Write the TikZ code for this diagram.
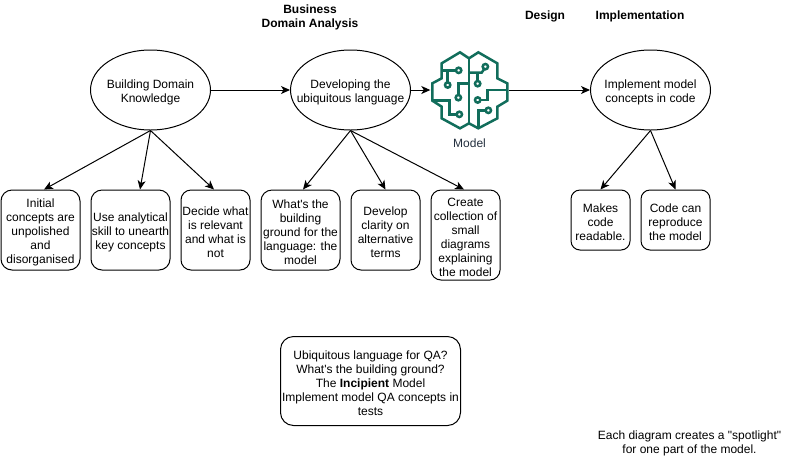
\documentclass[tikz,border=0pt]{standalone}
\usepackage{fontspec}
\setmainfont{Liberation Sans}[Ligatures=TeXOff]
\usetikzlibrary{arrows.meta,calc,shapes.geometric}
\definecolor{awsgreen}{HTML}{116D5B}
\definecolor{modelink}{HTML}{232F3E}
\newcommand{\up}{\rule{0pt}{12.5pt}}
\tikzset{
  ell/.style={draw=black,ellipse,line width=1pt,inner ysep=0pt,inner xsep=-30pt,minimum width=120pt,minimum height=80pt,align=center,font=\fontsize{12}{14}\selectfont},
  card/.style={draw=black,line width=1pt,inner sep=0pt,align=center,font=\fontsize{12}{14}\selectfont},
  arr/.style={-{Stealth[length=9pt,width=8pt,inset=2.5pt]},line width=1pt},
  lab/.style={inner sep=0pt,align=center,font=\fontsize{12}{14}\selectfont},
  brainline/.style={draw=awsgreen,line width=2.5pt,line join=miter,fill=none},
}
\newcommand{\cardat}[7]{\node[card,rounded corners=#6pt,minimum width=#4 pt,minimum height=#5 pt] (#1) at (#2,#3) {\up #7};}
\begin{document}
\begin{tikzpicture}[x=1pt,y=-1pt]
\useasboundingbox (0,0) rectangle (791,456);
\node[lab,font=\fontsize{12}{14}\selectfont\bfseries] (t1) at (310,15.5) {\up Business\\Domain Analysis};
\node[lab,font=\fontsize{12}{14}\selectfont\bfseries] (t2) at (545,16) {Design};
\node[lab,font=\fontsize{12}{14}\selectfont\bfseries] (t3) at (640,16) {Implementation};
\node[ell] (bdk) at (150.5,90) {\up Building Domain\\Knowledge};
\node[ell] (dev) at (350.5,90) {\up Developing the\\ubiquitous language};
\node[ell] (impl) at (650.5,90) {\up Implement model\\concepts in code};
\node[inner sep=0pt,minimum width=78pt,minimum height=78pt] (brain) at (469.5,90) {};
\begin{scope}[shift={(400,40)},x=0.3333pt,y=-0.3333pt]
 \draw[brainline] (207,55) -- (180,37) -- (125,70) -- (125,115) -- (97,130) -- (97,182) -- (125,200) -- (125,235) -- (180,265) -- (207,250) -- (235,265) -- (292,235) -- (292,200) -- (322,182) -- (322,130) -- (292,115) -- (292,70) -- (235,37) -- cycle;
 \draw[brainline] (207,55) -- (207,250);
 \draw[brainline] (125,91) -- (168,91);
 \draw[brainline] (143,91) -- (143,127);
 \draw[brainline] (175,165) -- (175,130) -- (207,130);
 \draw[brainline] (97,182) -- (148,182) -- (148,223) -- (170,223);
 \draw[brainline] (207,98) -- (245,98) -- (252,88);
 \draw[brainline] (233,98) -- (233,123);
 \draw[brainline] (241,180) -- (262,180) -- (262,150) -- (322,150);
 \draw[brainline] (257,211) -- (236,211) -- (236,265);
 \foreach \p/\q in {176/91,143/135,175/173,178/223,256/80,233/131,233/180,265/211}
   \draw[brainline] (\p,\q) circle[radius=8];
\end{scope}
\node[inner sep=0pt,font=\fontsize{12}{14}\selectfont,text=modelink] (mlab) at (469.5,143) {Model};
\cardat{a1}{40.5}{230}{79}{80}{11}{Initial\\concepts are\\unpolished\\and\\disorganised}
\cardat{a2}{130.5}{230}{79}{80}{11}{Use analytical\\skill to unearth\\key concepts}
\cardat{a3}{215.5}{230}{69}{80}{10}{Decide what\\is relevant\\and what is\\not}
\cardat{b1}{300.5}{230}{79}{80}{11}{What's the\\building\\ground for the\\language: the\\model}
\cardat{b2}{385.5}{230}{69}{80}{10}{Develop\\clarity on\\alternative\\terms}
\cardat{b3}{465.5}{235}{69}{90}{10}{Create\\collection of\\small\\diagrams\\explaining\\the model}
\cardat{c1}{600.5}{220}{59}{60}{9}{Makes\\code\\readable.}
\cardat{c2}{675.5}{220}{69}{60}{9}{Code can\\reproduce\\the model}
\cardat{q}{370.5}{381}{180}{89}{13}{Ubiquitous language for QA?\\What's the building ground?\\The \textbf{Incipient} Model\\Implement model QA concepts in\\tests}
\node[lab] (note) at (689.5,441) {\up Each diagram creates a "spotlight"\\for one part of the model.};
\draw[arr] (bdk) -- (dev);
\draw[arr] (dev) -- (brain.west);
\draw[arr] (brain.east) -- (impl);
\draw[arr] (bdk.south) -- ($(a1.north)+(3.5,0)$);
\draw[arr] (bdk.south) -- ($(a2.north)+(9.5,0)$);
\draw[arr] (bdk.south) -- ($(a3.north)+(-1.5,0)$);
\draw[arr] (dev.south) -- ($(b1.north)+(2.5,0)$);
\draw[arr] (dev.south) -- (b2.north);
\draw[arr] (dev.south) -- ($(b3.north)+(-1.5,0)$);
\draw[arr] (impl.south) -- (c1.north);
\draw[arr] (impl.south) -- (c2.north);
\end{tikzpicture}
\end{document}
